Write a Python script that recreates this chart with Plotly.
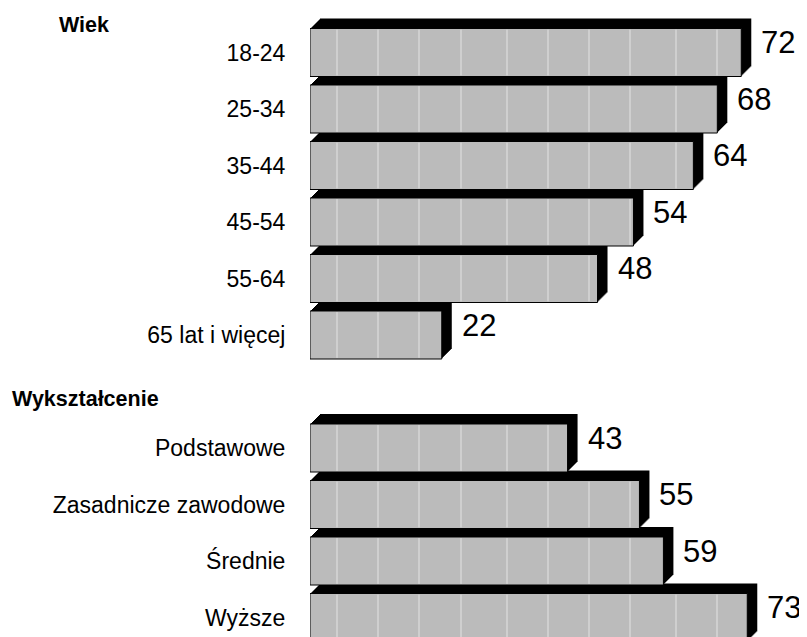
import plotly.graph_objects as go

# ---- data ----
age_labels = ["18-24", "25-34", "35-44", "45-54", "55-64", "65 lat i więcej"]
age_values = [72, 68, 64, 54, 48, 22]
edu_labels = ["Podstawowe", "Zasadnicze zawodowe", "Średnie", "Wyższe"]
edu_values = [43, 55, 59, 73]
group_titles = ["Wiek", "Wykształcenie"]

# ---- layout constants (pixels, page coordinates) ----
PAGE_W, PAGE_H = 807, 637
BODY = 8                      # browser default body margin
W, H = PAGE_W - BODY, PAGE_H - BODY
LEFT = 310 - BODY
PX_PER_UNIT = 5.99
ROW_PX = 56.5
ROW0_PX = 52.5 - BODY
BAR_W = 0.85
DEPTH_X_PX, DEPTH_Y_PX = 10, 10
N_LAYERS = 10
FONT = "Liberation Sans, Arial, sans-serif"

labels = age_labels + edu_labels
values = age_values + edu_values
positions = list(range(len(age_labels))) + [len(age_labels) + 1 + i for i in range(len(edu_labels))]

x_max = (W - LEFT) / PX_PER_UNIT
y_top = -ROW0_PX / ROW_PX
y_bot = y_top + H / ROW_PX

dxu = DEPTH_X_PX / PX_PER_UNIT
dyu = DEPTH_Y_PX / ROW_PX

fig = go.Figure()

# shadow (3D depth) layers
for k in range(N_LAYERS, 0, -1):
    f = k / N_LAYERS
    fig.add_trace(go.Bar(
        x=values, y=positions, orientation="h",
        base=[dxu * f] * len(values),
        width=BAR_W, offset=-BAR_W / 2 - dyu * f,
        marker=dict(color="black", line=dict(width=0)),
        hoverinfo="skip", showlegend=False,
    ))

# front faces
fig.add_trace(go.Bar(
    x=values, y=positions, orientation="h",
    width=BAR_W,
    marker=dict(
        color="#c0c0c0",
        line=dict(color="black", width=1),
        pattern=dict(shape=".", size=2, solidity=0.5,
                     fgcolor="#707070", bgcolor="#f6f6f6", fillmode="replace"),
    ),
    showlegend=False,
))

# thin white texture lines seen on the bar faces
GRID_STEP_PX = [27, 68, 109, 151, 197, 238, 279, 320, 366, 407]
gx, gy = [], []
for v, p in zip(values, positions):
    for g in GRID_STEP_PX:
        gu = g / PX_PER_UNIT
        if gu < v - 0.3:
            gx += [gu, gu, None]
            gy += [p - BAR_W / 2 + 0.02, p + BAR_W / 2 - 0.02, None]
fig.add_trace(go.Scatter(x=gx, y=gy, mode="lines",
                         line=dict(color="white", width=1),
                         opacity=0.6,
                         hoverinfo="skip", showlegend=False))

annotations = []
for v, p in zip(values, positions):
    annotations.append(dict(
        x=v, y=p, xref="x", yref="y", text=str(v), showarrow=False,
        xanchor="left", yanchor="middle", xshift=18, yshift=10,
        font=dict(family=FONT, size=31, color="black"),
    ))
annotations.append(dict(x=0, y=-0.49, xref="paper", yref="y", text="<b>%s</b>" % group_titles[0],
                        showarrow=False, xanchor="left", yanchor="middle", xshift=59 - 310 - 2,
                        font=dict(family=FONT, size=21.5, color="black")))
annotations.append(dict(x=0, y=6.13, xref="paper", yref="y", text="<b>%s</b>" % group_titles[1],
                        showarrow=False, xanchor="left", yanchor="middle", xshift=12 - 310 - 2,
                        font=dict(family=FONT, size=21.5, color="black")))

fig.update_layout(
    width=W, height=H,
    margin=dict(l=LEFT, r=0, t=0, b=0, autoexpand=False),
    paper_bgcolor="white", plot_bgcolor="white",
    barmode="overlay",
    annotations=annotations,
    xaxis=dict(range=[0, x_max], visible=False, fixedrange=True),
    yaxis=dict(range=[y_bot, y_top], tickvals=positions, ticktext=labels,
               showgrid=False, zeroline=False, showline=False,
               ticks="outside", ticklen=19, tickcolor="rgba(0,0,0,0)",
               tickfont=dict(family=FONT, size=23, color="black")),
    showlegend=False,
)

fig.write_html("out.html")
